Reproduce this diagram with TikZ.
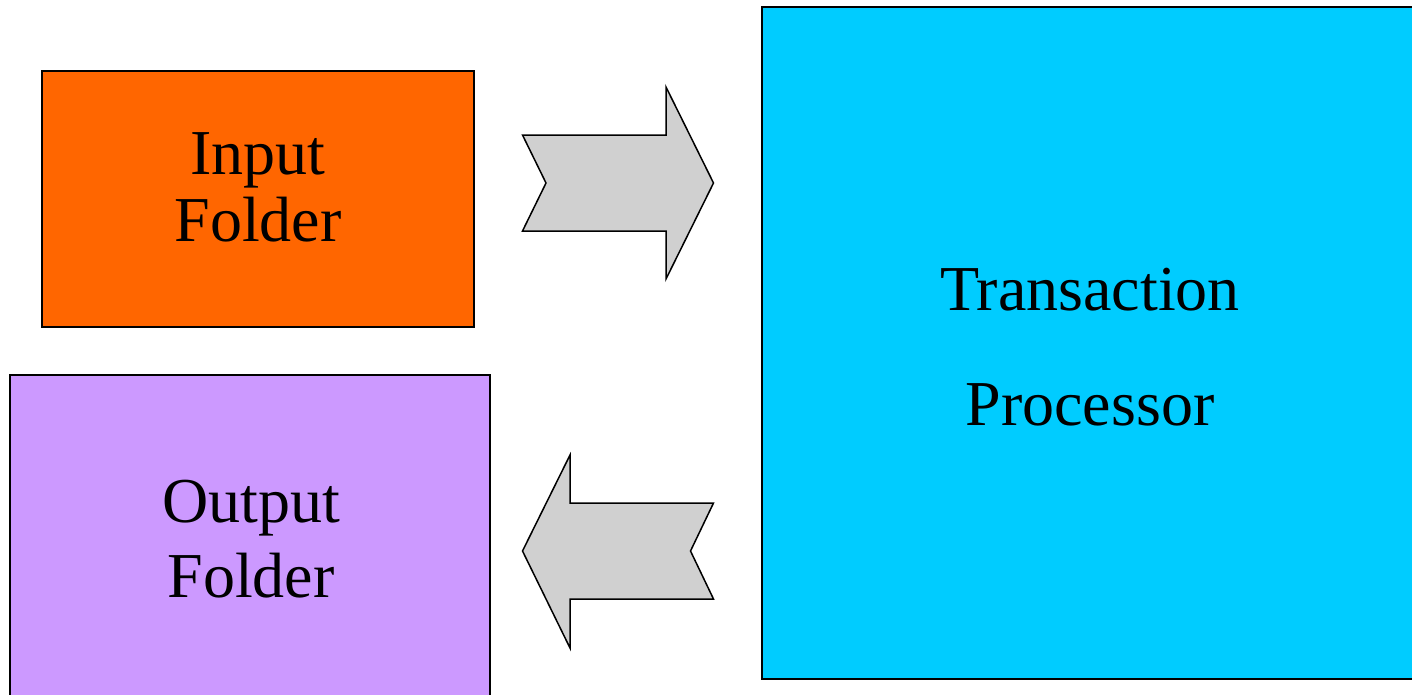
\documentclass[tikz,border=0pt]{standalone}
\usepackage{fontspec}
\setmainfont{Liberation Serif}
\definecolor{infolder}{HTML}{FF6600}
\definecolor{outfolder}{HTML}{CC99FF}
\definecolor{processor}{HTML}{00CCFF}
\definecolor{arrowgray}{HTML}{D0D0D0}
\begin{document}
\begin{tikzpicture}[x=1pt,y=-1pt,
  panel/.style={draw=black, line width=1.8pt},
  boxtext/.style={inner sep=0pt, anchor=north, align=center, text=black},
  blockarrow/.style={draw=black, line width=1.5pt, fill=arrowgray, line join=miter}]
\useasboundingbox (0,0) rectangle (1412,694);
\clip (0,0) rectangle (1412,694);
\fill[white] (0,0) rectangle (1412,694);

% folders and processor
\draw[panel, fill=infolder]  (42,71)  rectangle (474,327);
\draw[panel, fill=outfolder] (10,375) rectangle (490,710);
\draw[panel, fill=processor] (762,7)  rectangle (1430,679);

\node[boxtext, font={\fontsize{64}{67}\selectfont}] (input) at (258,132) {Input\\Folder};
\node[boxtext, font={\fontsize{64}{75}\selectfont}] (output) at (251,480) {Output\\Folder};
\node[boxtext, font={\fontsize{64}{115}\selectfont}] (proc) at (1090,267.5) {Transaction\\Processor};

% notched block arrows between the folders and the processor
\draw[blockarrow] (522.5,135) -- (666,135) -- (666,87) -- (713.5,183) -- (666,279)
  -- (666,231) -- (522.5,231) -- (546,183) -- cycle;
\draw[blockarrow] (713.5,503) -- (570,503) -- (570,455) -- (522.5,551) -- (570,648)
  -- (570,599) -- (713.5,599) -- (690.5,551) -- cycle;
\end{tikzpicture}
\end{document}
